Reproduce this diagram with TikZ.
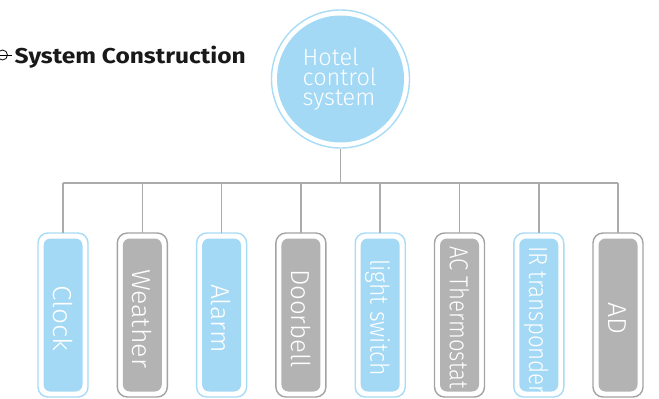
\documentclass[tikz,border=0pt]{standalone}
\usepackage{fontspec}
\usepackage{graphicx}
\setmainfont{Fira Sans}[UprightFont=* Light, BoldFont=* Bold]
\definecolor{skyfill}{HTML}{A3D9F5}
\definecolor{skyline}{HTML}{A8DBF5}
\definecolor{grayfill}{HTML}{B3B3B3}
\definecolor{grayline}{HTML}{A3A3A3}
\definecolor{wire}{HTML}{ABABAB}
\begin{document}
\begin{tikzpicture}[x=1pt,y=-1pt,
  wireline/.style={draw=wire,line width=1.6pt},
  outerbox/.style={rounded corners=10pt,line width=1.4pt,fill=white},
  innerbox/.style={rounded corners=7pt},
  itemtext/.style={text=white,font=\fontsize{26}{26}\selectfont,rotate=-90,inner sep=0pt,text height=19.5pt,text depth=0pt},
]
\useasboundingbox (0,0) rectangle (659,399);
% title
\draw[line width=0.8pt] (2.5,55) circle (5);
\draw[line width=0.8pt] (-3,55) -- (12,55);
\node[anchor=base west,inner sep=0pt,font=\fontsize{21.5}{21.5}\selectfont\bfseries,text=black!90] (title) at (14.5,63) {\resizebox{231pt}{\height}{System Construction}};
% hub
\node[circle,draw=skyline,line width=1.4pt,minimum size=138pt,inner sep=0pt] (hub) at (340.5,79) {};
\fill[skyfill] (hub.center) circle (63.5);
\node[anchor=base west,text=white,align=left,inner sep=0pt,font=\fontsize{23.5}{20}\selectfont] (hubtext) at (302.5,105) {Hotel\\control\\system};
% bus
\coordinate (busL) at (63,183);
\coordinate (busR) at (618,183);
\coordinate (busM) at (340.5,183);
\draw[wireline] (hub.south) -- (busM);
\draw[wireline] (busL) -- (busR);
% boxes
\foreach \i/\x/\kind/\len/\cy/\txt in {1/63/sky/66/318/Clock,2/142.3/gray/99/318.5/Weather,3/221.6/sky/69/318.5/Alarm,4/300.9/gray/99/318.5/Doorbell,5/380.2/sky/117/317.5/light switch,6/459.5/gray/143/317.5/AC Thermostat,7/538.8/sky/148/320/IR transponder,8/618/gray/32/318/AD}{
  \coordinate (top\i) at (\x,183);
  \draw[outerbox,draw=\kind line] (\x-25,233) rectangle (\x+25,397);
  \fill[innerbox,\kind fill] (\x-19.5,238.5) rectangle (\x+19.5,391.5);
  \coordinate (boxtop\i) at (\x,233);
  \draw[wireline] (top\i) -- (boxtop\i);
  \node[itemtext] (item\i) at (\x,\cy) {\resizebox{\len pt}{\height}{\txt}};
}
\end{tikzpicture}
\end{document}
